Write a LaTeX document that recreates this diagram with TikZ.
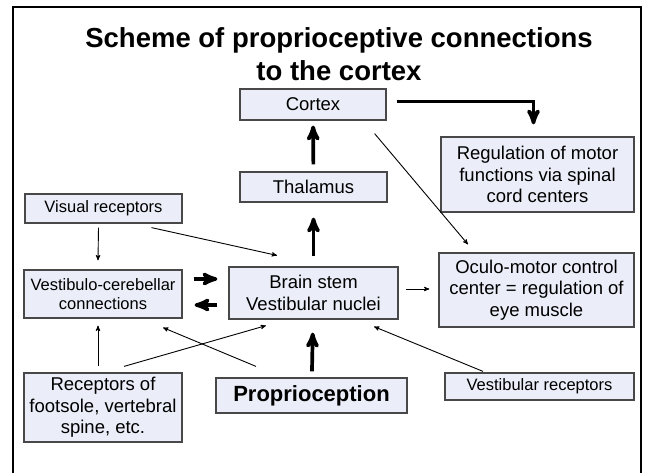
\documentclass[tikz,border=0pt]{standalone}
\usepackage{fontspec}
\setmainfont{Liberation Sans}
\usetikzlibrary{arrows,positioning}
\definecolor{boxfill}{RGB}{235,238,248}
\definecolor{boxline}{RGB}{72,72,72}

\begin{document}
\begin{tikzpicture}[x=1pt,y=1pt,>=stealth',
  box/.style={draw=boxline,fill=boxfill,line width=1.2pt,inner sep=0pt,align=center},
  small/.style={font=\fontsize{16.5}{19}\selectfont},
  normal/.style={font=\fontsize{18.5}{21.5}\selectfont},
  fibre/.style={->,line width=0.9pt},
  tract/.style={->,line width=3.7pt}]

  \useasboundingbox (0,0) rectangle (647,-472);
  \draw[line width=2pt] (13,-480) -- (13,-7) -- (641,-7) -- (641,-480);

  \node[font=\fontsize{27.5}{33}\selectfont\bfseries,align=center,inner sep=0pt,anchor=north]
        (title) at (339,-27) {Scheme of proprioceptive connections\\to the cortex};

  \node[box,normal,minimum width=146pt,minimum height=31pt] (cortex)  at (313,-104.5) {Cortex};
  \node[box,normal,minimum width=147pt,minimum height=30pt] (thal)    at (313.5,-187) {Thalamus};
  \node[box,normal,minimum width=193pt,minimum height=75pt] (regul)   at (537.5,-174.5)
        {Regulation of motor\\functions via spinal\\cord centers};
  \node[box,small,minimum width=157pt,minimum height=29pt]  (visual)  at (103.5,-208.5) {Visual receptors};
  \node[box,small,minimum width=158pt,minimum height=48pt]  (vestib)  at (103,-294)
        {Vestibulo-cerebellar\\connections};
  \node[box,normal,minimum width=169pt,minimum height=52pt] (brain)   at (313.5,-293)
        {Brain stem\\Vestibular nuclei};
  \node[box,normal,minimum width=195pt,minimum height=74pt] (oculo)   at (536.5,-290)
        {Oculo-motor control\\center = regulation of\\eye muscle};
  \node[box,normal,minimum width=158pt,minimum height=69pt] (recep)   at (103,-407.5)
        {Receptors of\\footsole, vertebral\\spine, etc.};
  \node[box,font=\fontsize{22}{26}\selectfont\bfseries,minimum width=191pt,minimum height=35pt]
        (proprio) at (311.5,-395.5) {Proprioception};
  \node[box,small,minimum width=189pt,minimum height=27pt]  (vestrec) at (539.5,-386.5) {Vestibular receptors};

  \draw[tract] ([xshift=10pt,yshift=3pt]cortex.east) -| ([xshift=-4pt,yshift=12pt]regul.north);

  \path (thal)    edge[tract,shorten <=7pt,shorten >=5pt]   (cortex)
        (brain)   edge[tract,shorten <=10pt,shorten >=15pt] (thal)
        (proprio) edge[tract,shorten <=6pt,shorten >=13pt]  (brain)
        ([yshift=15pt]vestib.east) edge[tract,shorten <=11pt,shorten >=11pt] ([yshift=14pt]brain.west)
        ([yshift=-12pt]brain.west) edge[tract,shorten <=11pt,shorten >=12pt] ([yshift=-11pt]vestib.east);

  \path ([yshift=4pt]brain.east) edge[fibre,shorten <=7pt,shorten >=9pt] ([yshift=1pt]oculo.west)
        ([xshift=-5pt,yshift=-4pt]visual.south) edge[fibre] ([xshift=-5pt,yshift=9pt]vestib.north)
        ([xshift=48pt,yshift=-4pt]visual.south) edge[fibre] ([xshift=-36.5pt,yshift=11pt]brain.north)
        ([xshift=-12pt,yshift=-13pt]cortex.south east) edge[fibre] ([xshift=-68.5pt,yshift=8pt]oculo.north)
        ([xshift=-5pt,yshift=6pt]recep.north) edge[fibre] ([xshift=-5pt,yshift=-7pt]vestib.south)
        ([xshift=21pt,yshift=6pt]recep.north) edge[fibre] ([xshift=-47.5pt,yshift=-6pt]brain.south)
        ([xshift=-55.5pt,yshift=11pt]proprio.north) edge[fibre] ([xshift=60pt,yshift=-9pt]vestib.south)
        ([xshift=-56.5pt,yshift=1pt]vestrec.north) edge[fibre] ([xshift=60.5pt,yshift=-7pt]brain.south);
\end{tikzpicture}
\end{document}
